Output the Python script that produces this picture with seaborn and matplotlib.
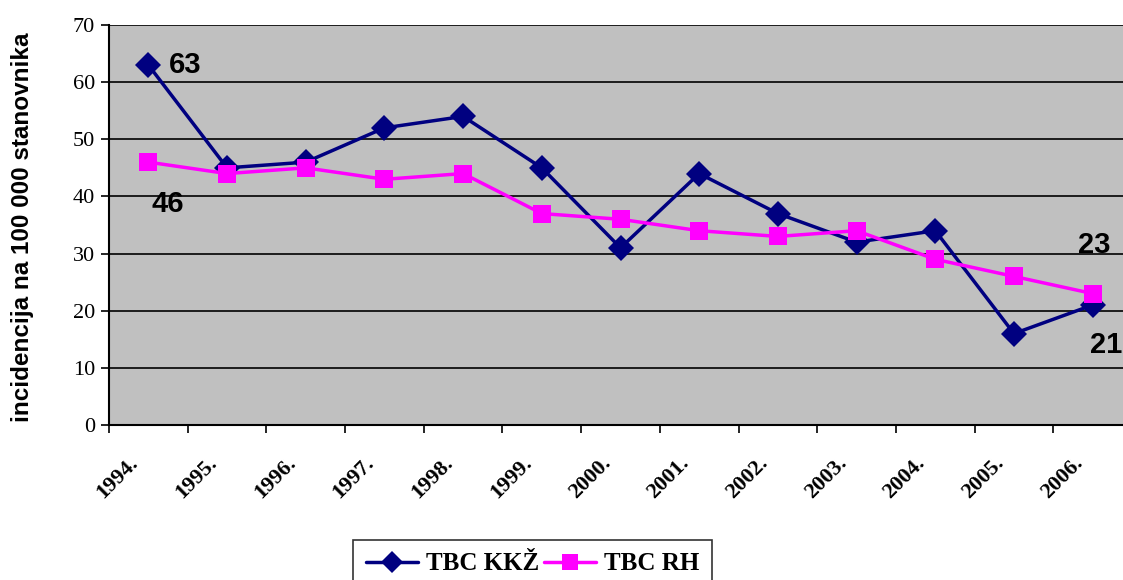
import numpy as np
import pandas as pd
import matplotlib.pyplot as plt
import matplotlib.transforms as mtransforms
import seaborn as sns
from matplotlib.ticker import FixedLocator

years = ['1994.', '1995.', '1996.', '1997.', '1998.', '1999.', '2000.',
         '2001.', '2002.', '2003.', '2004.', '2005.', '2006.']
tbc_kkz = [63, 45, 46, 52, 54, 45, 31, 44, 37, 32, 34, 16, 21]
tbc_rh = [46, 44, 45, 43, 44, 37, 36, 34, 33, 34, 29, 26, 23]
series_names = ['TBC KKŽ', 'TBC RH']

df = pd.DataFrame({
    'year': years * 2,
    'value': tbc_kkz + tbc_rh,
    'series': [series_names[0]] * len(years) + [series_names[1]] * len(years),
})

sns.set_style('white')
plt.rcParams['font.family'] = ['Liberation Serif', 'DejaVu Serif']
plt.rcParams['text.color'] = 'black'
plt.rcParams['xtick.color'] = 'black'
plt.rcParams['ytick.color'] = 'black'
plt.rcParams['axes.labelcolor'] = 'black'

fig = plt.figure(figsize=(11.23, 5.80), dpi=100)
ax = fig.add_axes([109 / 1123, 1 - 425 / 580, 1023 / 1123, 400 / 580])
ax.set_facecolor('#C0C0C0')

sns.lineplot(data=df, x='year', y='value', hue='series', style='series',
             palette={'TBC KKŽ': '#000080', 'TBC RH': '#FF00FF'},
             markers={'TBC KKŽ': 'D', 'TBC RH': 's'},
             dashes=False, linewidth=2.5, markersize=13, markeredgewidth=0,
             ax=ax, legend=False, sort=False)

ax.set_xlim(-0.5, len(years) - 0.5)
ax.set_ylim(0, 70)
ax.set_yticks(range(0, 71, 10))
ax.grid(axis='y', color='black', linewidth=1.2)
ax.grid(axis='x', visible=False)
ax.set_axisbelow(True)

for s in ['top', 'right']:
    ax.spines[s].set_visible(False)
for s in ['left', 'bottom']:
    ax.spines[s].set_color('black')
    ax.spines[s].set_linewidth(1.5)

ax.tick_params(axis='y', which='major', left=True, length=6, width=1.2,
               labelsize=16, pad=4)
ax.tick_params(axis='x', which='major', bottom=False, labelsize=16, pad=6)
ax.xaxis.set_minor_locator(FixedLocator(np.arange(-0.5, len(years), 1)))
ax.tick_params(axis='x', which='minor', bottom=True, length=6, width=1.2)

ax.set_xticks(range(len(years)))
ax.set_xticklabels(years, rotation=45, ha='right', rotation_mode='anchor',
                   fontweight='bold')
shift = mtransforms.ScaledTranslation(-20 / 100, -15 / 100, fig.dpi_scale_trans)
for lbl in ax.get_xticklabels():
    lbl.set_transform(lbl.get_transform() + shift)

ax.set_xlabel('')
ax.set_ylabel('incidencija na 100 000 stanovnika', family='Liberation Sans',
              fontweight='bold', fontsize=17.5)
ax.yaxis.set_label_coords(-0.073, 0.495)

ann = dict(family='Liberation Sans', fontweight='bold', fontsize=21,
           textcoords='offset points', va='center', color='black')
ax.annotate('63', (0, tbc_kkz[0]), xytext=(15, 0), ha='left', **ann)
ax.annotate('46', (0, tbc_rh[0]), xytext=(14, -30), ha='center', **ann)
ax.annotate('23', (12, tbc_rh[-1]), xytext=(1, 35), ha='center', **ann)
ax.annotate('21', (12, tbc_kkz[-1]), xytext=(10, -29), ha='center', **ann)

handles = [plt.Line2D([], [], color='#000080', marker='D', linewidth=2.5,
                      markersize=11, markeredgewidth=0),
           plt.Line2D([], [], color='#FF00FF', marker='s', linewidth=2.5,
                      markersize=11, markeredgewidth=0)]
leg = fig.legend(handles, series_names, loc='upper left',
                 bbox_to_anchor=(353 / 1123, 1 - 540 / 580), ncol=2,
                 frameon=True, fancybox=False, edgecolor='black',
                 borderaxespad=0,
                 prop={'family': 'Liberation Serif', 'weight': 'bold', 'size': 18},
                 handlelength=2.1, columnspacing=0.2, handletextpad=0.3,
                 borderpad=0.5)
leg.get_frame().set_linewidth(1.2)

fig.savefig('out.png', dpi=100)
